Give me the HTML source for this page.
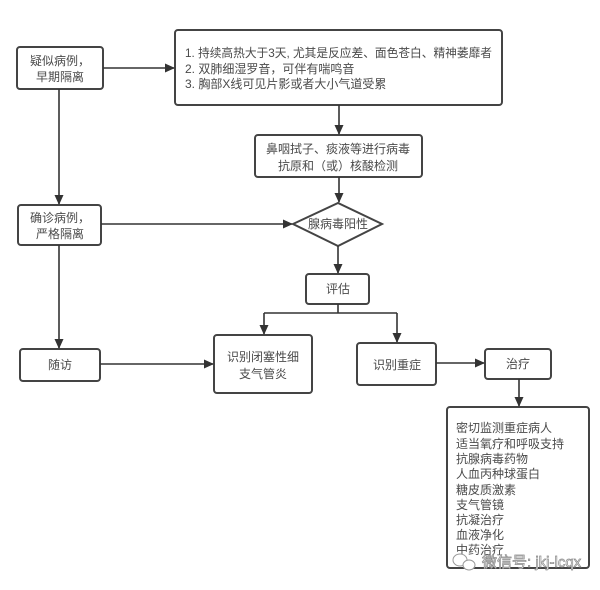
<!DOCTYPE html>
<html><head><meta charset="utf-8"><style>
html,body{margin:0;padding:0;background:#fff;}
svg{display:block;}
text{font-family:"Liberation Sans","Noto Sans CJK SC",sans-serif;fill:#4a4a4a;font-size:12px;}
</style></head><body>
<svg width="600" height="590" viewBox="0 0 600 590" xmlns="http://www.w3.org/2000/svg">
<defs>
<marker id="a" markerWidth="10" markerHeight="10" refX="9" refY="5" orient="auto" markerUnits="userSpaceOnUse">
<path d="M0,0.5 L10,5 L0,9.5 Z" fill="#333"/>
</marker>
</defs>
<g fill="#fff" stroke="#444" stroke-width="2">
<rect x="17" y="47" width="86" height="42" rx="3"/>
<rect x="175" y="30" width="327" height="75" rx="3"/>
<rect x="255" y="135" width="167" height="42" rx="3"/>
<rect x="18" y="205" width="83" height="40" rx="3"/>
<path d="M293,224 L338,203 L382,224 L338,246 Z"/>
<rect x="306" y="274" width="63" height="30" rx="3"/>
<rect x="20" y="349" width="80" height="32" rx="3"/>
<rect x="214" y="335" width="98" height="58" rx="3"/>
<rect x="357" y="343" width="79" height="42" rx="3"/>
<rect x="485" y="349" width="66" height="30" rx="3"/>
<rect x="447" y="407" width="142" height="161" rx="3"/>
</g>
<g fill="none" stroke="#333" stroke-width="1.6">
<line x1="103" y1="68" x2="174" y2="68" marker-end="url(#a)"/>
<line x1="59" y1="89" x2="59" y2="204" marker-end="url(#a)"/>
<line x1="339" y1="105" x2="339" y2="134" marker-end="url(#a)"/>
<line x1="339" y1="177" x2="339" y2="202" marker-end="url(#a)"/>
<line x1="101" y1="224" x2="292" y2="224" marker-end="url(#a)"/>
<line x1="338" y1="246" x2="338" y2="273" marker-end="url(#a)"/>
<polyline points="338,304 338,313"/>
<polyline points="264,313 397,313"/>
<line x1="264" y1="313" x2="264" y2="334" marker-end="url(#a)"/>
<line x1="397" y1="313" x2="397" y2="342" marker-end="url(#a)"/>
<line x1="59" y1="245" x2="59" y2="348" marker-end="url(#a)"/>
<line x1="100" y1="364" x2="213" y2="364" marker-end="url(#a)"/>
<line x1="436" y1="363" x2="484" y2="363" marker-end="url(#a)"/>
<line x1="519" y1="379" x2="519" y2="406" marker-end="url(#a)"/>
</g>
<g text-anchor="middle">
<text x="60" y="65">疑似病例，</text>
<text x="60" y="81">早期隔离</text>
<text x="338" y="153">鼻咽拭子、痰液等进行病毒</text>
<text x="338" y="170">抗原和（或）核酸检测</text>
<text x="60" y="222">确诊病例，</text>
<text x="60" y="238">严格隔离</text>
<text x="338" y="228">腺病毒阳性</text>
<text x="338" y="293">评估</text>
<text x="60" y="369">随访</text>
<text x="263" y="361">识别闭塞性细</text>
<text x="263" y="378">支气管炎</text>
<text x="397" y="369">识别重症</text>
<text x="518" y="368">治疗</text>
</g>
<text x="185" y="57" textLength="307" lengthAdjust="spacingAndGlyphs">1. 持续高热大于3天, 尤其是反应差、面色苍白、精神萎靡者</text>
<text x="185" y="73">2. 双肺细湿罗音，可伴有喘鸣音</text>
<text x="185" y="88">3. 胸部X线可见片影或者大小气道受累</text>
<g style="font-size:11.5px">
<text x="456" y="432">密切监测重症病人</text>
<text x="456" y="448">适当氧疗和呼吸支持</text>
<text x="456" y="463">抗腺病毒药物</text>
<text x="456" y="478">人血丙种球蛋白</text>
<text x="456" y="494">糖皮质激素</text>
<text x="456" y="509">支气管镜</text>
<text x="456" y="524">抗凝治疗</text>
<text x="456" y="539">血液净化</text>
<text x="456" y="554">中药治疗</text>
</g>
<g fill="#fff" stroke="#999" stroke-width="1">
<ellipse cx="460" cy="560" rx="7" ry="6"/>
<ellipse cx="469" cy="565" rx="6" ry="5"/>
</g>
<text x="482" y="567" style="font-size:15px;fill:#fff;stroke:#888;stroke-width:0.7px">微信号: jkj-lcqx</text>
</svg>
</body></html>
